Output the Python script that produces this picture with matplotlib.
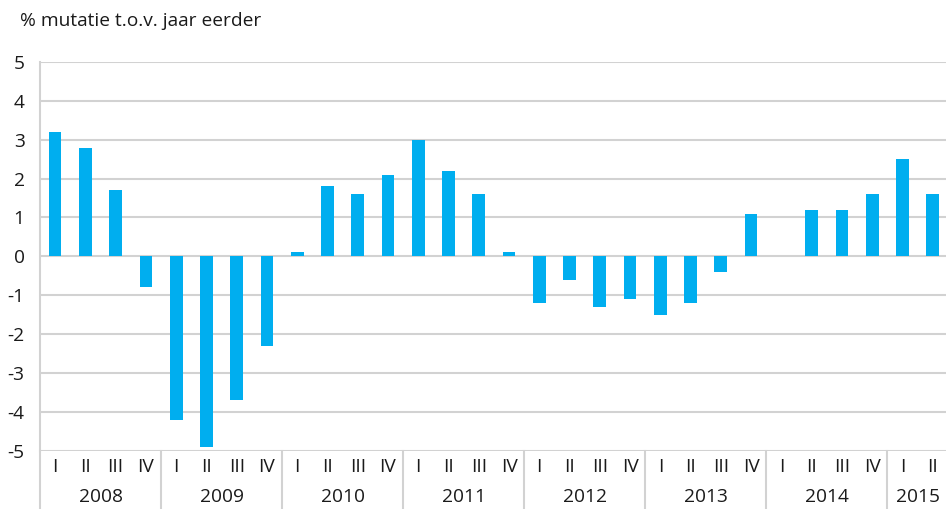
import matplotlib
matplotlib.use("Agg")
import matplotlib.pyplot as plt
import matplotlib.transforms as mtransforms

plt.rcParams['font.family'] = ['Open Sans', 'DejaVu Sans']

years = ['2008', '2009', '2010', '2011', '2012', '2013', '2014', '2015']
quarters = ['I', 'II', 'III', 'IV']
quarters_per_year = [4, 4, 4, 4, 4, 4, 4, 2]
values = [3.2, 2.8, 1.7, -0.8,
          -4.2, -4.9, -3.7, -2.3,
          0.1, 1.8, 1.6, 2.1,
          3.0, 2.2, 1.6, 0.1,
          -1.2, -0.6, -1.3, -1.1,
          -1.5, -1.2, -0.4, 1.1,
          0.0, 1.2, 1.2, 1.6,
          2.5, 1.6]
yticks = [-5, -4, -3, -2, -1, 0, 1, 2, 3, 4, 5]
title = '% mutatie t.o.v. jaar eerder'

bar_color = '#00AEEF'
grid_color = '#D2D2D2'
text_color = '#1a1a1a'
fs = 13.8

fig = plt.figure(figsize=(9.46, 5.09), dpi=100)
W, H = 946, 509
left_px, right_px, top_px, bot_px = 40, 947.8, 62, 450.7
ax = fig.add_axes([left_px / W, (H - bot_px) / H, (right_px - left_px) / W, (bot_px - top_px) / H])

labels = []
for y, n in zip(years, quarters_per_year):
    labels += quarters[:n]
x = list(range(len(values)))

ax.set_axisbelow(True)
for t in yticks:
    ax.axhline(t, color=grid_color, lw=1.5, zorder=0)
ax.bar(x, values, width=0.42, color=bar_color, linewidth=0, zorder=2)

ax.set_xlim(-0.5, len(values) - 0.5)
ax.set_ylim(-5, 5)
ax.set_yticks(yticks)
ax.set_yticklabels([str(t) for t in yticks], fontsize=fs, color=text_color)
ax.tick_params(axis='y', length=0, pad=11)
ax.set_xticks([])
for s in ['top', 'right', 'bottom']:
    ax.spines[s].set_visible(False)
ax.spines['left'].set_color(grid_color)
ax.spines['left'].set_linewidth(1.5)

trans = mtransforms.blended_transform_factory(ax.transData, ax.transAxes)
axh = bot_px - top_px
# quarter labels
for i, lab in enumerate(labels):
    ax.text(i, -(467 - bot_px) / axh, lab, transform=trans, ha='center', va='center',
            fontsize=fs, color=text_color, clip_on=False)
# year labels and separators
start = 0
for y, n in zip(years, quarters_per_year):
    ax.text(start + (n - 1) / 2, -(497 - bot_px) / axh, y, transform=trans, ha='center', va='center',
            fontsize=fs, color=text_color, clip_on=False)
    if start > 0:
        ax.plot([start - 0.5, start - 0.5], [0, -(H - bot_px + 5) / axh], transform=trans,
                color=grid_color, lw=1.5, clip_on=False)
    start += n
ax.plot([-0.5, -0.5], [0, -(H - bot_px + 5) / axh], transform=trans,
        color=grid_color, lw=1.5, clip_on=False)

fig.text(20 / W, 1 - 21 / H, title, ha='left', va='center', fontsize=fs, color=text_color)

fig.savefig('out.png', dpi=100)
